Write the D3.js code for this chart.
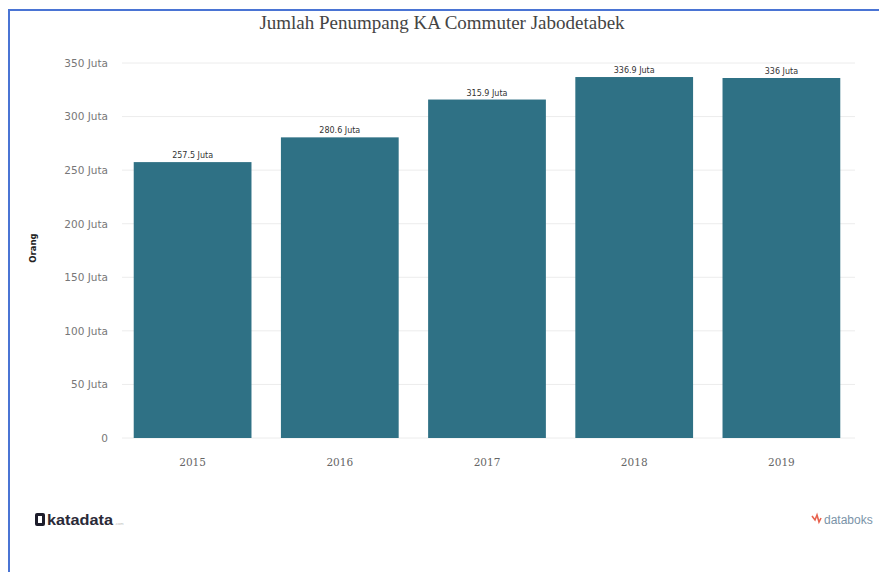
<!DOCTYPE html>
<html><head><meta charset="utf-8">
<script src="https://cdn.jsdelivr.net/npm/d3@7"></script>
<style>body{margin:0;background:#fff;}svg{display:block;}</style>
</head><body>
<script>
const years = ["2015","2016","2017","2018","2019"];
const values = [257.5, 280.6, 315.9, 336.9, 336];
const valueLabels = ["257.5 Juta","280.6 Juta","315.9 Juta","336.9 Juta","336 Juta"];
const yTicks = [0,50,100,150,200,250,300,350];
const title = "Jumlah Penumpang KA Commuter Jabodetabek";

const W=879,H=572;
const svg=d3.select("body").append("svg").attr("width",W).attr("height",H);
svg.append("rect").attr("width",W).attr("height",H).attr("fill","#fff");
// border
svg.append("path").attr("d",`M9,${H} L9,10 L${W},10`).attr("fill","none").attr("stroke","#4a74d4").attr("stroke-width",2);

const x=d3.scaleBand().domain(years).range([119,855]).paddingInner(0.2).paddingOuter(0.1);
const y=d3.scaleLinear().domain([0,350]).range([438,63]);

// grid
svg.append("g").selectAll("line").data(yTicks).join("line")
 .attr("x1",122).attr("x2",855).attr("y1",d=>y(d)).attr("y2",d=>y(d))
 .attr("stroke","#ececec").attr("stroke-width",1);

// y axis labels
const yAxis=d3.axisLeft(y).tickValues(yTicks).tickSize(0).tickPadding(0)
 .tickFormat(d=>d===0?"0":d+" Juta");
const ya=svg.append("g").attr("transform","translate(108,0)").call(yAxis);
ya.select(".domain").remove();
ya.selectAll("text").attr("font-family","'DejaVu Sans',sans-serif").attr("font-size",10.5).attr("fill","#777");

// bars
svg.append("g").selectAll("rect").data(values).join("rect")
 .attr("x",(d,i)=>x(years[i])).attr("width",x.bandwidth())
 .attr("y",d=>y(d)).attr("height",d=>y(0)-y(d)).attr("fill","#2f7185");

// value labels
svg.append("g").selectAll("text").data(values).join("text")
 .attr("x",(d,i)=>x(years[i])+x.bandwidth()/2).attr("y",d=>y(d)-4)
 .attr("text-anchor","middle").attr("font-family","'DejaVu Sans',sans-serif")
 .attr("font-size",8).attr("fill","#333").text((d,i)=>valueLabels[i]);

// x axis
const xAxis=d3.axisBottom(x).tickSize(0).tickPadding(0);
const xa=svg.append("g").attr("transform","translate(0,459)").call(xAxis);
xa.select(".domain").remove();
xa.selectAll("text").attr("font-family","'DejaVu Serif',serif").attr("font-size",10.5).attr("fill","#666").attr("dy","0.7em");

// title
svg.append("text").attr("x",442).attr("y",29).attr("text-anchor","middle")
 .attr("font-family","'Liberation Serif','Times New Roman',serif").attr("font-size",19).attr("fill","#444")
 .text(title);

// y label
svg.append("text").attr("transform","translate(36,248) rotate(-90)").attr("text-anchor","middle")
 .attr("font-family","'DejaVu Sans',sans-serif").attr("font-size",8.5).attr("font-weight","bold").attr("fill","#222").text("Orang");

// katadata logo
const kd=svg.append("g");
kd.append("rect").attr("x",35).attr("y",513).attr("width",10).attr("height",13).attr("rx",2).attr("fill","#1d1d2b");
kd.append("rect").attr("x",38).attr("y",516).attr("width",4).attr("height",7).attr("fill","#fff");
kd.append("text").attr("x",47).attr("y",525).attr("font-family","'Liberation Sans',sans-serif").attr("font-weight","bold").attr("font-size",14).attr("fill","#2a2a38")
 .attr("textLength",66).attr("lengthAdjust","spacingAndGlyphs").text("katadata");
kd.append("text").attr("x",115).attr("y",525).attr("font-family","sans-serif").attr("font-size",4).attr("fill","#bbb").text(".com");

// databoks logo
const db=svg.append("g");
db.append("path").attr("d","M812,516 l3,4 l2,-5 l2,7 l2,-4").attr("fill","none").attr("stroke","#e8624e").attr("stroke-width",1.6);
db.append("text").attr("x",824).attr("y",524).attr("font-family","'Liberation Sans',sans-serif").attr("font-size",12).attr("fill","#7a93a8").text("databoks");
</script>
</body></html>
